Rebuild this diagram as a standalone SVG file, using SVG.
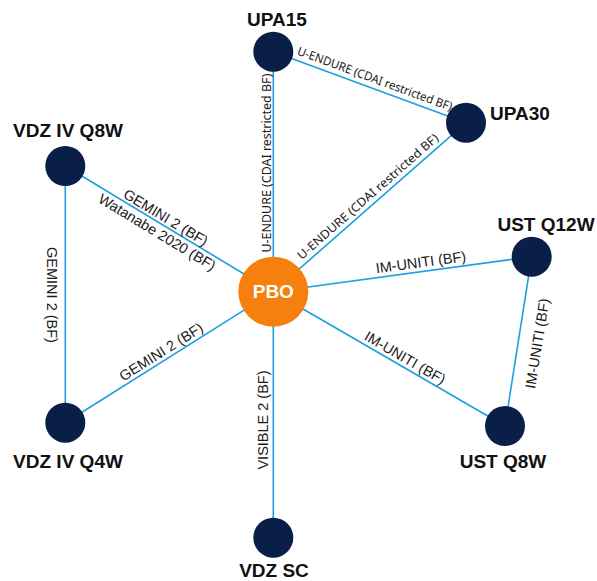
<svg xmlns="http://www.w3.org/2000/svg" width="597" height="581" viewBox="0 0 597 581">
<style>
.edge{stroke:#1a9fe2;stroke-width:1.6;fill:none}
.node{fill:#0a1f48}
.hub{fill:#f6800e}
.nl{font-family:"Liberation Sans",Arial,sans-serif;font-weight:bold;font-size:19px;fill:#111}
.el{font-family:"Liberation Sans",Arial,sans-serif;font-size:14.5px;fill:#1a1a1a;text-anchor:middle}
.ec{font-family:"Noto Sans","Open Sans",sans-serif;font-size:12px;fill:#1a1a1a;text-anchor:middle}
</style>
<rect width="597" height="581" fill="#fff"/>
<g id="connectors">
<line class="edge" x1="273.3" y1="51.7" x2="273.3" y2="291.7"/>
<line class="edge" x1="273.3" y1="51.7" x2="466" y2="122.7"/>
<line class="edge" x1="273.3" y1="291.7" x2="466" y2="122.7"/>
<line class="edge" x1="273.3" y1="291.7" x2="531.7" y2="256.7"/>
<line class="edge" x1="531.7" y1="256.7" x2="505" y2="426"/>
<line class="edge" x1="273.3" y1="291.7" x2="505" y2="426"/>
<line class="edge" x1="273.3" y1="291.7" x2="273.3" y2="537.7"/>
<line class="edge" x1="273.3" y1="291.7" x2="65.3" y2="166"/>
<line class="edge" x1="273.3" y1="291.7" x2="65.3" y2="422.7"/>
<line class="edge" x1="65.3" y1="166" x2="65.3" y2="422.7"/>
<g id="edge-labels">
<text class="ec" transform="translate(371.6,87.9) rotate(20.2)" y="-5.5" textLength="164" lengthAdjust="spacingAndGlyphs">U-ENDURE (CDAI restricted BF)</text>
<text class="ec" transform="translate(373.9,203.5) rotate(-41.3)" y="-5" textLength="183" lengthAdjust="spacingAndGlyphs">U-ENDURE (CDAI restricted BF)</text>
<text class="ec" transform="translate(273.3,163) rotate(-90)" y="-2" textLength="179" lengthAdjust="spacingAndGlyphs">U-ENDURE (CDAI restricted BF)</text>
<text class="el" transform="translate(161.6,224.3) rotate(31.2)" y="-3">GEMINI 2 (BF)</text>
<text class="el" transform="translate(161.9,224.5) rotate(31.2)" y="14">Watanabe 2020 (BF)</text>
<text class="el" transform="translate(165.9,359.3) rotate(-32.2)" y="-3.8">GEMINI 2 (BF)</text>
<text class="el" transform="translate(65.3,295) rotate(90)" y="18">GEMINI 2 (BF)</text>
<text class="el" transform="translate(273.3,420) rotate(-90)" y="-5">VISIBLE 2 (BF)</text>
<text class="el" transform="translate(422.1,271.6) rotate(-7.7)" y="-4.5">IM-UNITI (BF)</text>
<text class="el" transform="translate(400.5,365.5) rotate(30.1)" y="-4">IM-UNITI (BF)</text>
<text class="el" transform="translate(518.5,340.5) rotate(-81)" y="24">IM-UNITI (BF)</text>
</g>
</g>
<g id="PBO"><circle class="hub" cx="273.3" cy="291.7" r="35"/><text x="273.3" y="297.5" text-anchor="middle" style="font-family:'Liberation Sans',Arial,sans-serif;font-weight:bold;font-size:19px;fill:#fff">PBO</text></g>
<g id="UPA15"><circle class="node" cx="273.3" cy="51.7" r="20"/><text class="nl" x="277" y="26" text-anchor="middle">UPA15</text></g>
<g id="UPA30"><circle class="node" cx="466" cy="122.7" r="20"/><text class="nl" x="490" y="119.5">UPA30</text></g>
<g id="VDZ_IV_Q8W"><circle class="node" cx="65.3" cy="166" r="20"/><text class="nl" x="68" y="137" text-anchor="middle">VDZ IV Q8W</text></g>
<g id="VDZ_IV_Q4W"><circle class="node" cx="65.3" cy="422.7" r="20"/><text class="nl" x="68" y="468" text-anchor="middle">VDZ IV Q4W</text></g>
<g id="UST_Q12W"><circle class="node" cx="531.7" cy="256.7" r="20"/><text class="nl" x="546" y="231" text-anchor="middle">UST Q12W</text></g>
<g id="UST_Q8W"><circle class="node" cx="505" cy="426" r="20"/><text class="nl" x="503" y="468" text-anchor="middle">UST Q8W</text></g>
<g id="VDZ_SC"><circle class="node" cx="273.3" cy="537.7" r="20"/><text class="nl" x="274" y="577" text-anchor="middle">VDZ SC</text></g>
</svg>
